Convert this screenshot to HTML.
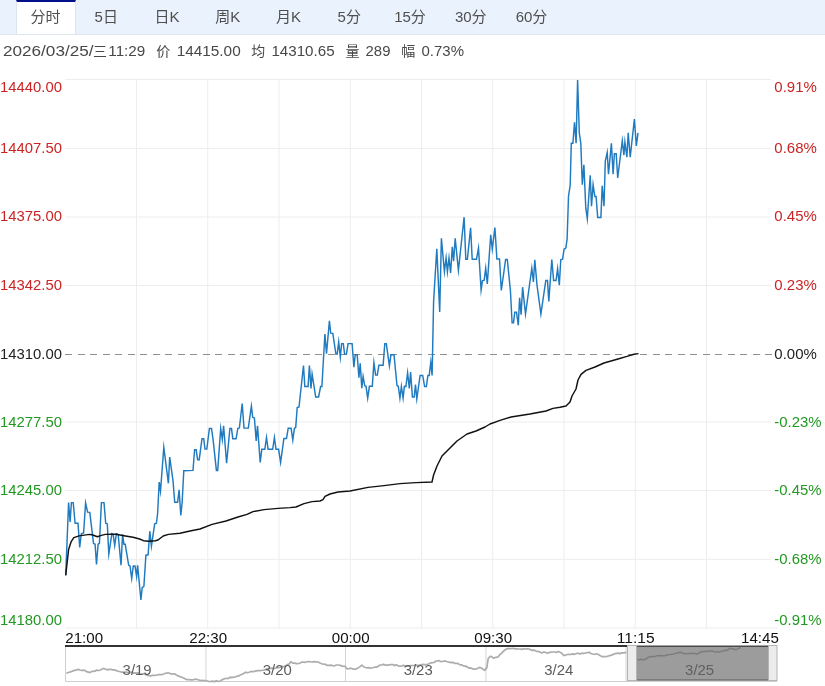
<!DOCTYPE html>
<html lang="zh-CN"><head><meta charset="utf-8"><title>分时</title>
<style>
html,body{margin:0;padding:0;background:#fff;}
body{width:825px;height:686px;overflow:hidden;position:relative;font-family:"Liberation Sans","Noto Sans CJK SC",sans-serif;}
.tabs{will-change:transform;position:absolute;left:0;top:0;width:825px;height:34px;background:#eaf2fd;border-bottom:1px solid #dfe5ee;box-sizing:content-box;}
.tab{position:absolute;top:0;width:60px;height:34px;line-height:33px;text-align:center;font-size:15px;color:#4f4f4f;font-family:"Liberation Sans","Noto Sans CJK SC",sans-serif;}
.tab.on{text-indent:-1px;background:#fff;border-top:2px solid #000f8a;height:32px;line-height:30px;border-left:1px solid #dfe5ee;border-right:1px solid #dfe5ee;width:58px;}
.info{will-change:transform;position:absolute;left:3px;top:41px;font-size:14px;line-height:20px;color:#555;white-space:pre;}
svg{position:absolute;left:0;top:0;will-change:transform;}
svg text{font-family:"Liberation Sans",sans-serif;font-size:14px;}
.i{fill:#484848;font-family:"Liberation Sans","Noto Sans CJK SC",sans-serif;} .r{fill:#cc2424;} .g{fill:#229922;} .k{fill:#222;} .x{fill:#111;} .n{fill:#5c5c5c;font-size:14px;}
</style></head><body>
<div class="tabs"><div class="tab on" style="left:16.0px">分时</div><div class="tab" style="left:76.25px">5日</div><div class="tab" style="left:137.0px">日K</div><div class="tab" style="left:197.75px">周K</div><div class="tab" style="left:258.5px">月K</div><div class="tab" style="left:319.25px">5分</div><div class="tab" style="left:380.0px">15分</div><div class="tab" style="left:440.75px">30分</div><div class="tab" style="left:501.5px">60分</div></div>
<svg width="825" height="686" viewBox="0 0 825 686">
<g stroke="#ededed" stroke-width="1"><line x1="65" y1="79.5" x2="771" y2="79.5"/><line x1="65" y1="148.5" x2="771" y2="148.5"/><line x1="65" y1="217" x2="771" y2="217"/><line x1="65" y1="285.5" x2="771" y2="285.5"/><line x1="65" y1="422" x2="771" y2="422"/><line x1="65" y1="490.5" x2="771" y2="490.5"/><line x1="65" y1="559.3" x2="771" y2="559.3"/><line x1="65" y1="628" x2="778" y2="628"/><line x1="136.5" y1="79" x2="136.5" y2="628"/><line x1="207.75" y1="79" x2="207.75" y2="628"/><line x1="279.0" y1="79" x2="279.0" y2="628"/><line x1="350.25" y1="79" x2="350.25" y2="628"/><line x1="421.5" y1="79" x2="421.5" y2="628"/><line x1="492.75" y1="79" x2="492.75" y2="628"/><line x1="564.0" y1="79" x2="564.0" y2="628"/><line x1="635.25" y1="79" x2="635.25" y2="628"/><line x1="706.5" y1="79" x2="706.5" y2="628"/></g>
<line x1="65" y1="354.5" x2="778" y2="354.5" stroke="#8f8f8f" stroke-width="1" stroke-dasharray="7,5.5" shape-rendering="crispEdges"/>
<g><text class="i" x="3" y="56.4" textLength="90.5" lengthAdjust="spacingAndGlyphs">2026/03/25/</text><text class="i" x="100" y="56.4" text-anchor="middle">三</text><text class="i" x="108.3" y="56.4" textLength="37" lengthAdjust="spacingAndGlyphs">11:29</text><text class="i" x="163.3" y="56.4" text-anchor="middle">价</text><text class="i" x="176.7" y="56.4" textLength="64" lengthAdjust="spacingAndGlyphs">14415.00</text><text class="i" x="258.3" y="56.4" text-anchor="middle">均</text><text class="i" x="271.4" y="56.4" textLength="63.2" lengthAdjust="spacingAndGlyphs">14310.65</text><text class="i" x="352.6" y="56.4" text-anchor="middle">量</text><text class="i" x="365.6" y="56.4" textLength="24.8" lengthAdjust="spacingAndGlyphs">289</text><text class="i" x="408.2" y="56.4" text-anchor="middle">幅</text><text class="i" x="421.5" y="56.4" textLength="42.5" lengthAdjust="spacingAndGlyphs">0.73%</text></g>
<g><text class="r" x="0" y="91.6" textLength="62" lengthAdjust="spacingAndGlyphs">14440.00</text><text class="r" x="0" y="152.8" textLength="62" lengthAdjust="spacingAndGlyphs">14407.50</text><text class="r" x="0" y="221.2" textLength="62" lengthAdjust="spacingAndGlyphs">14375.00</text><text class="r" x="0" y="289.8" textLength="62" lengthAdjust="spacingAndGlyphs">14342.50</text><text class="k" x="0" y="358.8" textLength="62" lengthAdjust="spacingAndGlyphs">14310.00</text><text class="g" x="0" y="426.5" textLength="62" lengthAdjust="spacingAndGlyphs">14277.50</text><text class="g" x="0" y="495" textLength="62" lengthAdjust="spacingAndGlyphs">14245.00</text><text class="g" x="0" y="564" textLength="62" lengthAdjust="spacingAndGlyphs">14212.50</text><text class="g" x="0" y="625.3" textLength="62" lengthAdjust="spacingAndGlyphs">14180.00</text><text class="r" x="774.3" y="91.6" textLength="42.5" lengthAdjust="spacingAndGlyphs">0.91%</text><text class="r" x="774.3" y="152.8" textLength="42.5" lengthAdjust="spacingAndGlyphs">0.68%</text><text class="r" x="774.3" y="221.2" textLength="42.5" lengthAdjust="spacingAndGlyphs">0.45%</text><text class="r" x="774.3" y="289.8" textLength="42.5" lengthAdjust="spacingAndGlyphs">0.23%</text><text class="k" x="774.3" y="358.8" textLength="42.5" lengthAdjust="spacingAndGlyphs">0.00%</text><text class="g" x="774.3" y="426.5" textLength="47.2" lengthAdjust="spacingAndGlyphs">-0.23%</text><text class="g" x="774.3" y="495" textLength="47.2" lengthAdjust="spacingAndGlyphs">-0.45%</text><text class="g" x="774.3" y="564" textLength="47.2" lengthAdjust="spacingAndGlyphs">-0.68%</text><text class="g" x="774.3" y="625.3" textLength="47.2" lengthAdjust="spacingAndGlyphs">-0.91%</text></g>
<path d="M65.7,575.3 L68.6,502.6 L70.1,521.9 L71.4,502.6 L73.2,502.6 L75.1,523.2 L78,523.2 L79.7,547.5 L81.3,533.7 L83.6,533 L85.6,502.9 L87.6,512.1 L89.8,512.4 L93.5,543.5 L95.1,544.2 L96.5,564.5 L98.1,544.2 L99.4,543.5 L101.4,502.6 L104,502.6 L105.7,523.2 L107.3,523.9 L108.8,554 L111.9,533.7 L113.2,534.4 L114.7,545.5 L116.4,533.7 L118.2,534.4 L121,565.3 L122.6,534.4 L123.9,544.3 L125.2,544.3 L128.7,565.3 L130,565.9 L131.7,578.4 L133.3,565.9 L135,565.9 L136.6,576.4 L137.6,565.3 L140.9,600 L142.2,587.6 L143.9,586.3 L145.9,555.2 L148.1,554.8 L149.8,531.2 L151.4,546.2 L154.7,523.9 L156.4,523.3 L157.6,513.5 L159.2,482 L160.5,491.2 L163.8,447.2 L168.4,483.3 L169.7,457.1 L173,480.7 L174.7,502.3 L177.6,502.3 L179.1,489.9 L180.8,515.4 L182.1,503 L183.8,470.8 L193,470.4 L194.6,449.8 L196.2,449.8 L197.6,459.7 L199.2,459.7 L202,438.7 L203.7,438.7 L205,449.1 L206.8,449.1 L209.4,428.5 L211.5,428.5 L213.1,439.6 L216.4,470.4 L217.7,470.4 L220.7,428.5 L222.3,439.6 L223.6,425.8 L226.6,463.2 L229.9,428.5 L231.5,428.5 L232.8,438.7 L236.1,438.7 L237.8,428.5 L239.4,427.8 L242.2,403.5 L244,428.1 L248.3,428.1 L251.4,406.2 L252.7,417.3 L254.4,418 L256.2,440.9 L257.5,425.8 L260.2,462.4 L261.8,449.3 L264.8,449.3 L266.5,437.5 L268.1,449.3 L272.7,449.3 L274.4,437.5 L276,449.3 L278.6,449.3 L280.6,462.4 L283.9,438.5 L286.5,438.5 L288.2,428.3 L291.1,428.3 L292.8,440.1 L294.4,428.3 L295.7,427.6 L297.2,407.6 L299,407 L303.5,365.5 L304.8,386.5 L308.1,386.5 L309.4,365.5 L311,388.5 L312.1,374 L315.7,397 L318.6,397 L320.6,386.5 L321.9,386.5 L324.9,334 L326.5,353.7 L329.4,320.9 L330.7,333.1 L332.8,333.4 L335.9,354.1 L337.2,354.1 L338.7,341.9 L340.3,357 L341.6,343.6 L343.3,343.6 L344.6,354.1 L346.4,354.1 L348.1,343.6 L352.1,343.6 L353.9,367.2 L355.2,354.8 L357.2,354.8 L358.9,377.7 L360.2,363.3 L361.8,388.2 L363.1,376.4 L364.7,385.6 L366,386.3 L367.7,398.1 L369.4,386.3 L372.3,386.3 L373.9,362.6 L375.6,375.1 L377.3,375.1 L378.9,365.3 L383.1,365.3 L384.8,343.6 L386.3,343.6 L389.4,365.9 L390.9,354.8 L394,354.8 L397,385.6 L398.3,386.3 L399.9,398.1 L401.4,386.3 L403.1,398.1 L404.4,386.3 L405.9,386.5 L407.6,372.7 L409.3,388.5 L410.6,372.1 L412.4,397 L414.2,397 L415.5,384.5 L416.8,399 L420.1,375.4 L422.7,375.4 L424.6,386.5 L426.4,386.5 L427.9,375.4 L429.2,375.4 L430.8,362.2 L432.1,375.4 L433.6,301.4 L436.8,248.7 L439.7,311.9 L441.4,238.2 L444.4,271.7 L446.1,257.9 L447.4,271.7 L449,257.9 L450.6,273 L452.3,246.7 L453.6,261.2 L455.2,238.2 L458.4,270.4 L460.8,248 L464.1,217.2 L465.8,259.2 L467.4,259.2 L470.6,227.7 L472.2,259.2 L476.5,259.2 L478.5,248 L481.1,290 L482.4,280.8 L484.2,280.2 L485.7,268.2 L487.3,284 L490.7,234.8 L492.3,249.2 L494.9,227.6 L496.9,259 L499.5,259 L501.3,290.5 L505.6,259.4 L507.3,259.4 L510.4,290.5 L512.1,322.7 L513.5,322.7 L514.8,312.2 L516.5,312.2 L518.3,325.3 L519.6,297.7 L521.1,314.8 L522.6,287.2 L525.5,314.1 L531.8,268.2 L533.4,282 L534.8,259.7 L537,285.1 L540.9,314 L545.8,280.5 L547.5,280.5 L548.8,301.5 L551.8,259.5 L553.6,280.5 L556,280.5 L557.6,268.7 L559.3,285.1 L560.8,259.5 L562.6,259.1 L564.1,249 L565.8,248.1 L567.1,239.2 L568.5,196.4 L570.2,185.3 L571.3,143.3 L572.9,143.3 L574.5,122.2 L576.1,143.3 L577.6,80.1 L579.3,132.8 L580.8,143.3 L582.3,184.6 L583.9,164.9 L585.8,208.2 L587.3,218.7 L590.2,175.4 L591.5,206.3 L593.1,184.6 L594.8,196.4 L596.1,196.4 L597.7,217.4 L600.9,217.4 L602.2,185.9 L604,206.3 L605.3,161 L607.2,152.5 L608.5,174.1 L611.4,143.3 L613.1,174.1 L614.4,153.8 L616.2,153.8 L617.7,178 L622.3,140.7 L623.9,155.1 L624.9,142 L626.9,157.1 L628.2,132.8 L630.2,157.1 L634.4,119 L636.3,145.9 L638,132.8" fill="none" stroke="#1f7abf" stroke-width="1.45" stroke-linejoin="miter" stroke-miterlimit="10"/>
<path d="M65.7,575.3 L68.6,549.4 L71.2,541.6 L73.8,537.6 L79.1,535.9 L89.6,534.4 L92.8,535 L97.4,536.7 L101.4,535.4 L105.3,534.4 L111.9,534.1 L116,534.2 L123.9,535.7 L133,537.3 L139.6,539 L143.5,540.7 L148.8,541.3 L155.4,540.7 L158,540 L163.2,536 L168.5,534.4 L180,533.2 L190,531 L200,529 L212,524.4 L226,521 L238,517 L247,514.4 L253,511.6 L264,509.6 L278,508.4 L290,507.6 L296,507 L304,503.6 L312,501.6 L320,501 L323,499.6 L325,496.4 L330,494 L338,492 L350,491 L368,487.4 L384,485.6 L400,483.6 L416,482.6 L432,482 L433.6,475 L437,466 L442,456 L450,448 L457,441 L467,434 L476,431 L485,427 L490,424 L500,420.4 L511,417 L530,414 L546,411 L553,408.4 L560,407.2 L566,406 L570,402 L572,396 L576,389 L578,380 L581,374.4 L586,370.4 L595,367 L604,363 L618,359 L627,356.4 L634,354.2 L638.5,353.6" fill="none" stroke="#111" stroke-width="1.45" stroke-linejoin="round"/>
<g><text class="x" x="65.3" y="642.6" text-anchor="start" textLength="37.8" lengthAdjust="spacingAndGlyphs">21:00</text><text class="x" x="208.2" y="642.6" text-anchor="middle" textLength="37.8" lengthAdjust="spacingAndGlyphs">22:30</text><text class="x" x="350.7" y="642.6" text-anchor="middle" textLength="37.8" lengthAdjust="spacingAndGlyphs">00:00</text><text class="x" x="493.2" y="642.6" text-anchor="middle" textLength="37.8" lengthAdjust="spacingAndGlyphs">09:30</text><text class="x" x="635.7" y="642.6" text-anchor="middle" textLength="37.8" lengthAdjust="spacingAndGlyphs">11:15</text><text class="x" x="778.8" y="642.6" text-anchor="end" textLength="37.8" lengthAdjust="spacingAndGlyphs">14:45</text></g>
<!-- navigator -->
<path d="M65.5,647 V681.5 H777" fill="none" stroke="#cfcfcf"/>
<g stroke="#d4d4d4"><line x1="206" y1="647" x2="206" y2="681"/><line x1="345.5" y1="647" x2="345.5" y2="681"/><line x1="486" y1="647" x2="486" y2="681"/><line x1="626" y1="647" x2="626" y2="681"/></g>
<path d="M66.4,673.2 L69.1,672.2 L71.3,671.6 L73.6,670.6 L75.9,670.2 L78.2,669.4 L80,670 L81.8,670.5 L83.6,670.1 L85.2,670.5 L86.8,671.8 L88.4,671.9 L90,672.7 L91.6,671.4 L93.2,671.4 L94.8,671.2 L96.4,670.2 L98.5,670.5 L100.6,670 L102.7,668.6 L104.3,668.7 L106,669.3 L107.6,669.9 L109.3,669.4 L110.9,669.3 L112.7,669.9 L114.6,669.9 L116.4,670.6 L118.2,671.2 L120.5,671.8 L122.7,672.1 L124.4,672.2 L126,672.2 L127.7,672.5 L129.4,672.4 L131,672.1 L132.7,673.1 L134.5,672.9 L136.3,673.2 L138.2,672.9 L140,674 L141.8,674 L143.6,673.7 L145.4,674.4 L147.3,675.3 L149.1,675.7 L150.9,675.9 L152.7,675.2 L154.6,675.5 L156.4,675.2 L158.2,674.7 L159.8,674.6 L161.5,674.6 L163.1,674.2 L164.8,673.5 L166.4,673.2 L168,672.8 L169.6,673.3 L171.3,674.1 L172.9,673.9 L174.5,673.8 L176.3,675 L178.2,675.9 L180,676.6 L181.8,677.2 L183.7,678.1 L185.5,679.1 L187.3,679.7 L189.1,679.7 L190.9,679.9 L192.7,679.9 L194.6,679.3 L196.4,679.2 L198.2,679.8 L200,680.5 L201.8,680.4 L203.7,680.5 L205.5,680.5 L207.3,681 L209.1,681.5 L210.9,681.4 L212.8,681.2 L214.6,681.6 L216.4,680.9 L218.2,681.3 L220,681.1 L221.8,679.9 L223.6,679.1 L225.2,678.5 L226.9,678.4 L228.5,678.5 L230.2,677.1 L231.8,677.6 L233.6,677.2 L235.4,676.8 L237.3,676.2 L239.1,675.8 L240.7,674.8 L242.3,674.2 L243.9,673.3 L245.5,672.2 L247.3,672.8 L249.1,672.2 L250.9,671.5 L252.7,671.6 L254.5,671.3 L256.3,670.9 L258.1,670.6 L260,670.6 L261.8,670.4 L263.6,670.1 L265.4,669.6 L267.2,668.8 L269.1,668.6 L270.9,668.2 L272.7,668.3 L274.5,668.3 L276.3,668 L278.2,667.7 L280,667.5 L281.8,666.6 L283.6,666.7 L285.5,665.9 L287.3,664.6 L289.1,664 L290.9,661.7 L292.7,663.1 L294.6,663.1 L296.4,663.6 L298.2,663.7 L300,663 L301.8,662.2 L303.6,662.1 L305.5,662.3 L307.3,661.7 L309.1,661.6 L310.9,662 L312.8,661.8 L314.6,661.6 L316.4,661.8 L318.2,662 L320,663 L321.8,663.7 L323.6,664.2 L325.4,664.3 L327.2,665.4 L329.1,665.3 L330.9,665.2 L332.7,665.6 L334.5,665.8 L336.4,665 L338.2,665 L340.3,665.4 L342.4,666.3 L344.5,666 L347.3,668.9 L349.1,668.6 L350.9,668.2 L353.6,669.2 L355.9,669.1 L358.2,667.9 L360,666.6 L361.8,665.2 L363.6,666.7 L365.5,667.5 L367.3,667.8 L369.1,667.7 L370.9,668.2 L372.7,667.7 L374.5,667.2 L376.3,667.2 L378.2,666.4 L380,665 L381.8,664.9 L383.6,664.4 L385.4,665.2 L387.2,665.1 L389.1,664.8 L390.9,664.7 L392.7,664.6 L394.5,665.6 L396.3,664.8 L398.1,665.8 L400,666.1 L401.8,665.8 L403.6,665.4 L405.4,666.2 L407.3,666.2 L409.1,665.9 L410.9,665.6 L412.7,665.5 L414.6,665.4 L416.4,665.2 L418.2,665.5 L420,665.1 L421.9,664.7 L423.7,664.4 L425.5,664.8 L427.3,664.3 L429.1,663.7 L430.9,662.8 L432.7,662.6 L434.3,662.3 L435.9,661 L437.5,660.9 L439.1,660.7 L440.8,661.6 L442.4,661.5 L444.1,661.2 L445.8,661.2 L447.4,661.8 L449.1,662.2 L450.9,662.6 L452.7,662.3 L454.6,663.3 L456.4,663.4 L458.2,663.6 L460,664.9 L461.8,664.8 L463.7,666.1 L465.5,666.1 L467.3,666.9 L469.1,668.2 L470.9,667.9 L472.7,668.9 L474.5,669.2 L476.3,669 L478.2,668 L480,667.4 L482.2,668.6 L484.5,670.4 L486.9,667.4 L488.2,658.7 L490,656.4 L491.8,656.7 L493.6,658.3 L495.9,657.3 L498.2,656.8 L500,654.5 L501.8,653.1 L503.6,651.2 L505.5,649.5 L507.6,648.6 L509.7,648.6 L511.8,648.5 L513.4,648.4 L515,648.9 L516.6,648.9 L518.2,649 L520,649 L521.9,649.4 L523.7,648.8 L525.5,649 L527.3,648.8 L529.1,649 L530.9,649.9 L532.7,650.4 L534.5,650.1 L536.4,651.4 L538.2,651.4 L540,652 L541.8,652.9 L543.6,652 L545.5,652.3 L547.3,653.2 L549.1,652.6 L550.9,652.1 L552.7,652 L554.5,652 L556.4,652.4 L558.2,651.5 L560,652.3 L561.8,653.2 L563.6,655.4 L565.4,655.3 L567.2,654.5 L569.1,654.3 L570.9,654.5 L572.7,653.9 L574.5,654.3 L576.4,653.5 L578.2,653.2 L580,654.1 L581.8,653.2 L583.6,653.3 L585.5,653 L587.3,652.7 L589.1,652.2 L590.9,653.5 L592.8,654 L594.6,654.3 L596.4,653.8 L598.2,654.5 L600,655.6 L601.8,656.6 L603.6,656.7 L605.4,656.7 L607.3,656.4 L609.1,655.7 L610.9,655.4 L612.7,654.6 L614.5,653.9 L616.3,653.4 L618.2,653.2 L620,653.6 L621.6,652.9 L623.2,652.9 L624.9,652.7 L626.5,652.4" fill="none" stroke="#adadad" stroke-width="1.7" stroke-linejoin="round"/>
<rect x="636.5" y="646" width="132" height="34.5" fill="#9c9c9c"/>
<line x1="636" y1="680" x2="769" y2="680" stroke="#5a5a5a" stroke-width="1.2"/>
<line x1="65" y1="646" x2="627.5" y2="646" stroke="#333" stroke-width="2"/>
<line x1="636" y1="646.3" x2="769" y2="646.3" stroke="#4a4a4a" stroke-width="1.6"/>
<path d="M637.5,659.5 L639.2,659.9 L641,659.3 L642.7,659.7 L644.7,659.5 L646.8,658.3 L648.8,657.1 L650.5,656.5 L652.1,656.7 L653.8,656.5 L655.4,656.3 L657.1,655.7 L658.8,655.8 L660.5,655.5 L662.2,655.7 L664,655.8 L665.7,655.5 L667.4,654.8 L669.5,654.6 L671.5,654.3 L673.6,653.9 L675.7,653.2 L677.7,653 L679.8,652.2 L681.4,652.6 L683.1,653.5 L684.7,653.4 L686.4,653.7 L688,653.7 L689.7,653.4 L691.4,653.6 L693.1,653.3 L694.9,653.6 L696.6,654 L698.3,653.6 L700.3,652 L702.4,651.7 L704.1,651.5 L705.7,651.3 L707.4,651.4 L709,651.1 L710.7,651 L712.3,650.8 L714,651.7 L715.6,652 L717.3,651.4 L718.9,652.3 L720.5,651.8 L722.2,651.1 L723.8,650.8 L725.5,650.3 L727.1,650.4 L730.2,648.2 L731.9,648.9 L733.7,648.8 L735.4,649.7 L737.1,649.2 L738.8,648.3 L740.5,647.8" fill="none" stroke="#7c7c7c" stroke-width="1.5" stroke-linejoin="round"/>
<rect x="627.5" y="645.5" width="9" height="35" fill="#ececec" stroke="#b4b4b4"/>
<rect x="768.5" y="645.5" width="8.5" height="35" fill="#ececec" stroke="#b4b4b4"/>
<g><text class="n" x="137.1" y="675" text-anchor="middle" textLength="29" lengthAdjust="spacingAndGlyphs">3/19</text><text class="n" x="277.3" y="675" text-anchor="middle" textLength="29" lengthAdjust="spacingAndGlyphs">3/20</text><text class="n" x="418.2" y="675" text-anchor="middle" textLength="29" lengthAdjust="spacingAndGlyphs">3/23</text><text class="n" x="558.8" y="675" text-anchor="middle" textLength="29" lengthAdjust="spacingAndGlyphs">3/24</text><text class="n" x="699.6" y="675" text-anchor="middle" textLength="29" lengthAdjust="spacingAndGlyphs" style="fill:#606060">3/25</text></g>
</svg>
</body></html>
